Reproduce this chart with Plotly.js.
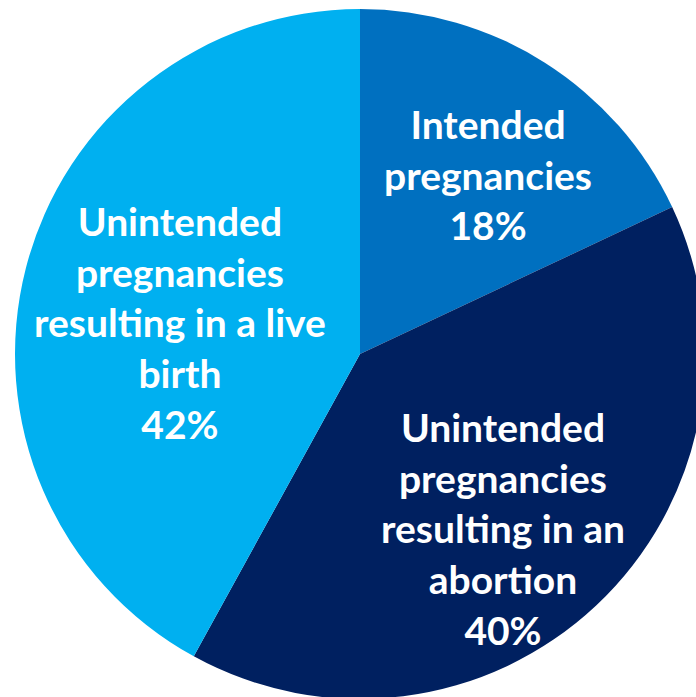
<!DOCTYPE html>
<html><head><meta charset="utf-8">
<script src="https://cdn.plot.ly/plotly-3.0.1.min.js"></script>
<style>html,body{margin:0;padding:0;overflow:hidden;background:#fff}#c{width:720px;height:720px}</style>
</head><body><div id="c"></div>
<script>
const categories = ["Intended<br>pregnancies", "Unintended<br>pregnancies<br>resulting in an<br>abortion", "Unintended<br>pregnancies<br>resulting in a live<br>birth"];
const shares = [18, 40, 42];
const colors = ["#0070C0", "#002060", "#00B0F0"];
// label placement style: radial fraction of the radius and angular nudge (deg)
const labelRadius = [0.640, 0.653, 0.529];
const labelNudge = [3.0, 3.8, -4.6];

const W = 720, H = 720;
const dom = {x: [15/W, 705/W], y: [21/H, 711/H]};
const total = shares.reduce((a, b) => a + b, 0);
const cx = (dom.x[0] + dom.x[1]) / 2, cy = (dom.y[0] + dom.y[1]) / 2;
const rPx = Math.min((dom.x[1] - dom.x[0]) * W, (dom.y[1] - dom.y[0]) * H) / 2;

let cum = 0;
const annotations = shares.map((v, i) => {
  const mid = (cum + v / 2) / total * 360 + labelNudge[i];
  cum += v;
  const a = mid * Math.PI / 180;
  const d = labelRadius[i] * rPx;
  return {
    xref: "paper", yref: "paper",
    x: cx + d * Math.sin(a) / W,
    y: cy + d * Math.cos(a) / H,
    xanchor: "center", yanchor: "middle",
    showarrow: false,
    text: categories[i] + "<br>" + v + "%",
    font: {family: "Lato", size: 39, color: "#ffffff", weight: 700}
  };
});

Plotly.newPlot("c", [{
  type: "pie",
  labels: categories,
  values: shares,
  sort: false,
  direction: "clockwise",
  rotation: 0,
  marker: {colors: colors, line: {width: 0}},
  textinfo: "none",
  hoverinfo: "none",
  domain: dom
}], {
  width: W, height: H,
  margin: {l: 0, r: 0, t: 0, b: 0},
  showlegend: false,
  paper_bgcolor: "#ffffff",
  annotations: annotations
}, {staticPlot: true});
</script></body></html>
